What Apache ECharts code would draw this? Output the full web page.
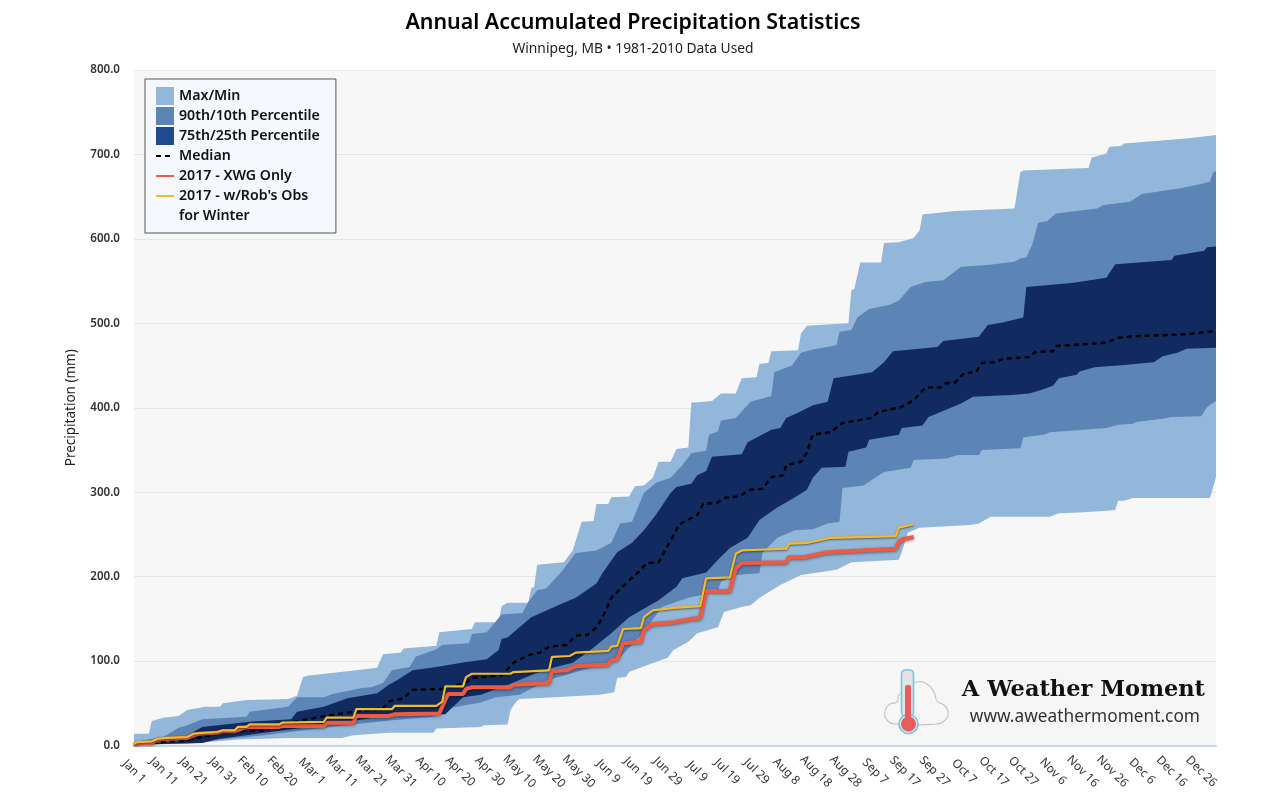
<!DOCTYPE html>
<html>
<head>
<meta charset="utf-8">
<title>Annual Accumulated Precipitation Statistics</title>
<script src="https://cdn.jsdelivr.net/npm/echarts@6/dist/echarts.min.js"></script>
<style>
html, body { margin: 0; padding: 0; background: #fff; }
#chart { width: 1280px; height: 800px; }
</style>
</head>
<body>
<div id="chart"></div>
<script>
// all pairs are [day of year (0 = Jan 1), precipitation in mm]
const maxLine = [[0,14],[5,14],[6,29],[10,33],[15,35],[18,42],[24,46],[29,46],[30,50],[38,54],[52,55],[55,59],[57,81],[59,83],[72,88],[82,92],[84,108],[90,110],[91,115],[102,118],[103,134],[114,138],[115,146],[123,146],[124,165],[126,169],[133,169],[134,186],[135,188],[136,214],[145,217],[148,231],[151,265],[155,266],[156,286],[160,286],[161,294],[167,295],[169,307],[172,308],[175,317],[177,336],[181,336],[183,351],[187,353],[188,406],[195,408],[198,417],[203,417],[205,435],[210,436],[211,452],[214,453],[215,467],[224,468],[225,488],[227,497],[241,500],[242,539],[243,541],[245,572],[252,572],[253,595],[258,596],[263,601],[265,610],[266,629],[277,633],[297,636],[299,679],[300,681],[315,683],[322,684],[323,696],[328,701],[329,709],[333,710],[334,713],[355,719],[365,723]];
const p90Line = [[0,4],[6,8],[9,9],[11,12],[15,21],[18,24],[23,31],[38,34],[39,40],[52,46],[55,57],[64,57],[67,61],[77,68],[80,69],[84,74],[87,89],[93,93],[95,105],[102,114],[104,119],[113,121],[114,132],[119,134],[124,155],[131,157],[133,170],[136,184],[139,186],[144,205],[149,228],[156,231],[161,240],[164,263],[168,265],[172,299],[176,311],[181,317],[185,332],[188,346],[193,349],[194,368],[197,372],[198,385],[203,388],[208,407],[215,414],[216,442],[222,450],[225,465],[229,469],[237,474],[238,490],[242,492],[244,507],[248,517],[255,522],[258,527],[262,543],[267,549],[273,551],[279,567],[288,569],[297,573],[299,577],[301,578],[303,593],[305,619],[308,621],[311,630],[325,636],[327,640],[336,644],[340,653],[353,660],[360,665],[363,668],[364,679],[365,680]];
const p75Line = [[0,1],[6,3],[15,5],[20,16],[23,22],[39,28],[53,31],[55,40],[64,46],[72,56],[82,62],[86,72],[89,78],[94,89],[102,93],[112,99],[119,102],[123,113],[124,126],[126,128],[134,152],[145,169],[149,175],[156,192],[158,204],[163,229],[168,240],[172,255],[176,273],[181,299],[183,306],[188,310],[190,320],[193,325],[195,342],[205,345],[207,359],[215,374],[218,376],[220,388],[224,394],[229,403],[234,407],[236,435],[249,442],[253,454],[256,467],[271,472],[273,479],[285,484],[288,498],[293,501],[300,507],[301,543],[317,548],[328,554],[331,570],[350,575],[351,580],[361,586],[362,590],[365,591]];
const medianLine = [[0,1],[19,7],[29,15],[35,17],[44,18],[54,28],[63,34],[74,40],[84,44],[86,52],[91,56],[94,66],[104,67],[112,75],[114,80],[124,83],[128,98],[133,107],[137,110],[140,117],[146,119],[149,130],[153,131],[156,140],[158,151],[161,175],[166,192],[170,205],[173,216],[177,217],[181,243],[184,262],[190,273],[192,286],[197,288],[199,293],[204,295],[208,303],[212,304],[215,318],[219,320],[220,332],[225,336],[227,347],[229,368],[235,371],[239,382],[249,388],[251,395],[259,401],[263,409],[267,424],[272,424],[274,429],[277,430],[280,441],[284,442],[286,453],[291,454],[293,458],[302,460],[304,466],[310,467],[311,473],[328,477],[332,483],[339,485],[355,487],[365,491]];
const p25Line = [[0,1],[23,3],[29,8],[44,15],[57,21],[64,24],[75,30],[87,36],[105,37],[111,57],[117,60],[127,73],[138,89],[148,98],[154,113],[161,133],[167,152],[173,164],[177,172],[183,188],[185,198],[193,205],[197,220],[201,234],[207,246],[211,267],[217,282],[223,294],[227,303],[229,317],[232,329],[240,330],[241,348],[247,353],[248,362],[258,368],[259,376],[266,379],[268,389],[279,405],[283,413],[296,415],[302,417],[306,421],[310,426],[312,435],[318,439],[319,443],[324,448],[335,451],[344,454],[347,461],[352,465],[355,470],[365,471]];
const p10Line = [[0,1],[29,7],[44,12],[57,18],[74,25],[87,30],[101,34],[106,44],[117,51],[122,57],[130,60],[140,78],[163,101],[172,134],[178,164],[187,175],[191,178],[197,184],[198,194],[203,202],[211,204],[212,228],[217,246],[223,255],[229,256],[234,263],[238,265],[239,305],[246,308],[253,324],[262,329],[263,338],[274,340],[278,344],[285,344],[286,350],[299,352],[300,365],[307,368],[309,371],[328,376],[332,380],[337,381],[338,383],[347,387],[350,389],[360,390],[362,401],[365,408]];
const minLine = [[0,1],[18,2],[35,7],[52,9],[70,9],[74,12],[86,15],[101,15],[102,20],[117,22],[118,24],[126,25],[127,42],[129,52],[130,55],[142,57],[157,60],[162,63],[163,80],[166,81],[167,87],[173,95],[180,104],[182,113],[187,123],[190,133],[197,140],[199,158],[205,164],[208,166],[211,175],[218,190],[225,202],[237,208],[242,217],[258,220],[259,229],[261,252],[265,258],[282,261],[285,263],[289,271],[309,271],[312,275],[319,276],[328,278],[331,279],[332,290],[334,290],[337,293],[363,293],[365,318]];
const xwgLine = [[0,1],[2,3],[6,3],[8,7],[11,8],[18,9],[20,12],[22,14],[28,15],[30,17],[34,17],[37,21],[39,22],[49,22],[50,23],[64,23],[65,27],[74,27],[75,35],[86,35],[88,37],[103,38],[105,54],[106,61],[111,61],[112,67],[114,69],[127,69],[128,72],[140,74],[141,88],[146,89],[149,94],[160,96],[161,101],[163,102],[165,121],[171,123],[172,137],[175,144],[182,146],[188,150],[191,151],[193,183],[201,183],[203,210],[205,216],[220,217],[221,223],[226,223],[234,229],[257,233],[258,241],[259,244],[263,247]];
const robLine = [[0,2],[1,4],[6,5],[8,8],[11,9],[18,10],[20,14],[28,16],[30,18],[34,18],[35,22],[38,22],[39,25],[49,25],[50,27],[64,28],[65,33],[74,33],[75,43],[87,43],[88,47],[102,47],[104,52],[105,70],[111,70],[112,81],[114,85],[127,85],[128,87],[140,89],[141,105],[147,106],[149,110],[160,112],[161,117],[163,118],[165,138],[171,139],[172,152],[175,160],[182,163],[191,165],[193,198],[201,199],[203,227],[205,231],[220,233],[221,239],[227,240],[235,246],[257,248],[258,258],[263,262]];
const monthNames = ['Jan','Feb','Mar','Apr','May','Jun','Jul','Aug','Sep','Oct','Nov','Dec'];
const yearStart = Date.UTC(2016, 0, 1);   // leap year, the axis has Feb 29

const FONT = '"Noto Sans", sans-serif';

let dayLabel = v => {
	if (v % 10 !== 0) return '';
	let d = new Date(yearStart + v * 86400000);
	return monthNames[d.getUTCMonth()] + ' ' + d.getUTCDate();
};

let bandSeries = (name, color, legendColor, upper, lower) => ({
	name: name,
	type: 'custom',
	coordinateSystem: 'cartesian2d',
	data: [[0, 0]],
	silent: true,
	itemStyle: { color: legendColor },
	renderItem: (params, api) => {
		let pts = upper.concat(lower.slice().reverse()).map(p => api.coord(p));
		return {
			type: 'polygon',
			shape: { points: pts },
			style: { fill: color }
		};
	}
});

let lineSeries = (name, data, color, width, extra) => Object.assign({
	name: name,
	type: 'line',
	data: data,
	symbol: 'none',
	silent: true,
	lineStyle: { color: color, width: width },
	itemStyle: { color: color }
}, extra);

let chart = echarts.init(document.getElementById('chart'));
chart.setOption({
	animation: false,
	backgroundColor: '#ffffff',
	textStyle: { fontFamily: FONT },
	title: {
		text: 'Annual Accumulated Precipitation Statistics',
		subtext: 'Winnipeg, MB • 1981-2010 Data Used',
		left: 628,
		top: 7,
		textAlign: 'center',
		itemGap: 9,
		textStyle: { fontFamily: FONT, fontSize: 21.4, fontWeight: 600, color: '#000' },
		subtextStyle: { fontFamily: FONT, fontSize: 13.8, color: '#222' }
	},
	legend: {
		left: 145,
		top: 79,
		orient: 'vertical',
		align: 'left',
		itemWidth: 18,
		itemHeight: 18,
		itemGap: 0,
		padding: [7, 16, 7, 10],
		backgroundColor: '#f5f8fc',
		borderColor: '#555',
		borderWidth: 1,
		borderRadius: 0,
		selectedMode: false,
		textStyle: { fontFamily: FONT, fontSize: 14.2, fontWeight: 600, color: '#111', lineHeight: 20 },
		data: [
			{ name: 'Max/Min', icon: 'rect' },
			{ name: '90th/10th Percentile', icon: 'rect' },
			{ name: '75th/25th Percentile', icon: 'rect' },
			{ name: 'Median', itemStyle: { opacity: 0 } },
			{ name: '2017 - XWG Only', itemStyle: { opacity: 0 }, lineStyle: { width: 2, shadowBlur: 0, shadowOffsetY: 0 } },
			{ name: "2017 - w/Rob's Obs", itemStyle: { opacity: 0 }, lineStyle: { width: 2, shadowBlur: 0, shadowOffsetY: 0 } },
			// second row of the entry above, the line sample only sits on the first row
			{ name: 'for Winter', itemStyle: { opacity: 0 }, lineStyle: { opacity: 0 } }
		]
	},
	grid: { left: 134, right: 64, top: 70, bottom: 54.5, show: true, backgroundColor: '#f7f7f7', borderWidth: 0 },
	xAxis: {
		type: 'value',
		min: 0,
		max: 365,
		interval: 10,
		axisLine: { show: true, lineStyle: { color: '#c6d4e6', width: 2 } },
		axisTick: { show: false },
		splitLine: { show: false },
		axisLabel: {
			rotate: -45,
			margin: 26,
			align: 'center',
			verticalAlign: 'middle',
			fontSize: 12,
			color: '#333',
			formatter: dayLabel,
			showMinLabel: true,
			showMaxLabel: false
		}
	},
	yAxis: {
		type: 'value',
		min: 0,
		max: 800,
		interval: 100,
		name: 'Precipitation (mm)',
		nameLocation: 'middle',
		nameGap: 56,
		nameTextStyle: { fontFamily: FONT, fontSize: 13.5, color: '#222' },
		axisLine: { show: false },
		axisTick: { show: false },
		splitLine: { show: true, lineStyle: { color: '#e6e6e6', width: 1 } },
		axisLabel: { fontSize: 11.6, fontWeight: 600, color: '#333', margin: 14, padding: [4, 0, 0, 0], formatter: v => v.toFixed(1) }
	},
	series: [
		bandSeries('Max/Min', '#93b7da', '#93b7da', maxLine, minLine),
		bandSeries('90th/10th Percentile', '#5c84b5', '#5c84b5', p90Line, p10Line),
		bandSeries('75th/25th Percentile', '#112b60', '#1f4a8e', p75Line, p25Line),
		lineSeries('Median', medianLine, '#000000', 2.5, { z: 3, lineStyle: { color: '#000', width: 2.5, type: [5, 4] } }),
		lineSeries('2017 - XWG Only', xwgLine, '#ee5b44', 4, { z: 4, lineStyle: { color: '#ee5b44', width: 4, shadowColor: 'rgba(0,0,0,0.45)', shadowBlur: 3, shadowOffsetY: 1 } }),
		lineSeries("2017 - w/Rob's Obs", robLine, '#f2bb2e', 2.2, { z: 5, lineStyle: { color: '#f2bb2e', width: 2.2, shadowColor: 'rgba(0,0,0,0.5)', shadowBlur: 2, shadowOffsetY: 1 } }),
		lineSeries('for Winter', [], '#f2bb2e', 2.2)
	],
	graphic: [
		{ type: 'rect', z: 1, silent: true, shape: { x: 873, y: 662, width: 343, height: 83 }, style: { fill: '#f6f6f6' } },
		{ type: 'polygon', z: 2, silent: true, shape: { smooth: 0.5, points: [[896,724],[887,720],[885,711],[890,704],[897,702],[899,695],[908,688],[917,682],[927,684],[934,692],[937,701],[945,706],[948,714],[944,721],[936,724]] }, style: { fill: '#f7f7f7', stroke: '#c4c4c4', lineWidth: 1.2 } },
		{ type: 'rect', z: 2, silent: true, shape: { x: 901.5, y: 670, width: 12, height: 46, r: 4 }, style: { fill: '#e3e3e3', stroke: '#6cc8ea', lineWidth: 1.6 } },
		{ type: 'circle', z: 2, silent: true, shape: { cx: 908.5, cy: 724, r: 9.5 }, style: { fill: '#e3e3e3', stroke: '#6cc8ea', lineWidth: 1.6 } },
		{ type: 'rect', z: 2, silent: true, shape: { x: 905, y: 685, width: 6, height: 38, r: 2 }, style: { fill: '#e85c5c' } },
		{ type: 'circle', z: 2, silent: true, shape: { cx: 908.5, cy: 724, r: 7.5 }, style: { fill: '#e85c5c' } },
		{ type: 'text', z: 2, silent: true, x: 1205, y: 690, style: { text: 'A Weather Moment', font: 'bold 22.5px "DejaVu Serif", serif', fill: '#111', align: 'right', verticalAlign: 'middle' } },
		{ type: 'text', z: 2, silent: true, x: 1200, y: 717, style: { text: 'www.aweathermoment.com', font: '17.3px "Noto Sans", sans-serif', fill: '#333', align: 'right', verticalAlign: 'middle' } }
	]
});
</script>
</body>
</html>
